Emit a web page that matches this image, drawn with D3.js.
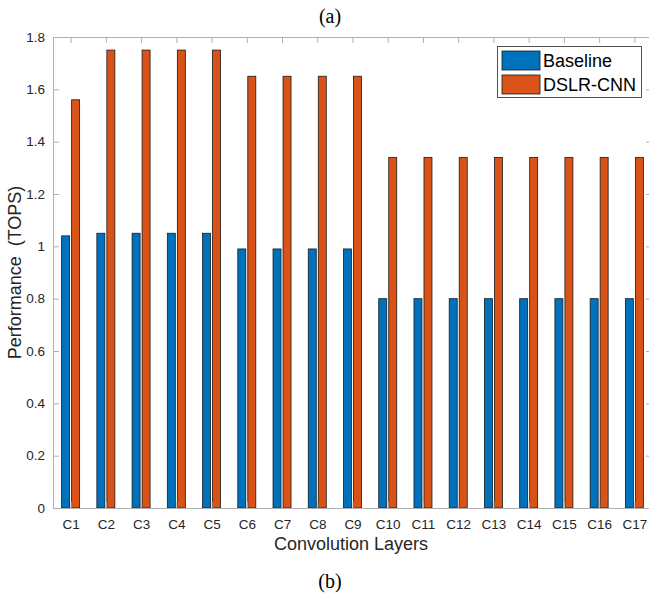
<!DOCTYPE html>
<html lang="en">
    <head>
        <meta charset="utf-8">
        <title>Performance chart</title>
        <script src="https://d3js.org/d3.v7.min.js"></script>
        <style type="text/css">
            body { margin: 0; background: #fff; }
            text { font-family: "Liberation Sans", Arial, sans-serif; }
        </style>
    </head>
    <body>
        <script type="text/javascript">

            //1. sizes
            const svgW = 649;
            const svgH = 597;
            const plotL = 53, plotR = 652, plotT = 37, plotB = 508;

            //2. data
            const layers = ["C1","C2","C3","C4","C5","C6","C7","C8","C9","C10","C11","C12","C13","C14","C15","C16","C17"];
            const baseline = [1.04, 1.05, 1.05, 1.05, 1.05, 0.99, 0.99, 0.99, 0.99, 0.80, 0.80, 0.80, 0.80, 0.80, 0.80, 0.80, 0.80];
            const dslr = [1.56, 1.75, 1.75, 1.75, 1.75, 1.65, 1.65, 1.65, 1.65, 1.34, 1.34, 1.34, 1.34, 1.34, 1.34, 1.34, 1.34];
            const yTicks = [0, 0.2, 0.4, 0.6, 0.8, 1, 1.2, 1.4, 1.6, 1.8];
            const seriesNames = ["Baseline", "DSLR-CNN"];
            const colors = ["#0072BD", "#D95319"];

            //3. scales
            const xScale = d3.scaleLinear()
                            .domain([0.5, layers.length + 0.5])
                            .range([plotL, plotR]);
            const yScale = d3.scaleLinear()
                            .domain([0, 1.8])
                            .range([plotB, plotT]);

            const unit = xScale(2) - xScale(1);
            const barW = 0.227 * unit;
            const offset = 0.142 * unit;

            //4. svg
            const svg = d3.select("body")
                        .append("svg")
                        .attr("width", svgW)
                        .attr("height", svgH);

            // bars
            [baseline, dslr].forEach(function(vals, s) {
                svg.append("g")
                    .selectAll("rect")
                    .data(vals)
                    .enter()
                    .append("rect")
                    .attr("x", (d, i) => xScale(i + 1) + (s === 0 ? -offset : offset) - barW / 2)
                    .attr("y", d => yScale(d))
                    .attr("width", barW)
                    .attr("height", d => yScale(0) - yScale(d))
                    .attr("fill", colors[s])
                    .attr("stroke", "#1a1a1a")
                    .attr("stroke-width", 0.8);
            });

            // axes
            const axisColor = "#b0b0b0";
            function styleAxis(g) {
                g.select(".domain").attr("stroke", axisColor);
                g.selectAll(".tick line").attr("stroke", axisColor);
                g.selectAll(".tick text").attr("fill", "#262626").attr("font-size", "13.5px");
            }

            const bottomAxis = d3.axisBottom(xScale)
                                .tickValues(d3.range(1, layers.length + 1))
                                .tickFormat(d => layers[d - 1])
                                .tickSizeInner(-6)
                                .tickSizeOuter(0)
                                .tickPadding(11);
            svg.append("g")
                .attr("transform", "translate(0," + plotB + ")")
                .call(bottomAxis)
                .call(styleAxis);

            const topAxis = d3.axisTop(xScale)
                                .tickValues(d3.range(1, layers.length + 1))
                                .tickFormat("")
                                .tickSizeInner(-6)
                                .tickSizeOuter(0);
            svg.append("g")
                .attr("transform", "translate(0," + plotT + ")")
                .call(topAxis)
                .call(styleAxis);

            const leftAxis = d3.axisLeft(yScale)
                                .tickValues(yTicks)
                                .tickFormat(d3.format("~g"))
                                .tickSizeInner(-6)
                                .tickSizeOuter(0)
                                .tickPadding(8);
            svg.append("g")
                .attr("transform", "translate(" + plotL + ",0)")
                .call(leftAxis)
                .call(styleAxis);

            const rightAxis = d3.axisRight(yScale)
                                .tickValues(yTicks)
                                .tickFormat("")
                                .tickSizeInner(-6)
                                .tickSizeOuter(0);
            svg.append("g")
                .attr("transform", "translate(" + plotR + ",0)")
                .call(rightAxis)
                .call(styleAxis);

            // axis labels
            svg.append("text")
                .attr("x", 351)
                .attr("y", 550)
                .attr("text-anchor", "middle")
                .attr("font-size", "18px")
                .attr("fill", "#262626")
                .text("Convolution Layers");

            svg.append("text")
                .attr("transform", "translate(21," + ((plotT + plotB) / 2) + ") rotate(-90)")
                .attr("text-anchor", "middle")
                .attr("font-size", "18px")
                .attr("fill", "#262626")
                .style("white-space", "pre")
                .text("Performance  (TOPS)");

            // captions
            svg.append("text")
                .attr("x", 330)
                .attr("y", 23)
                .attr("text-anchor", "middle")
                .style("font-family", "'Liberation Serif', serif")
                .attr("font-size", "20px")
                .attr("fill", "#000")
                .text("(a)");

            svg.append("text")
                .attr("x", 330)
                .attr("y", 588)
                .attr("text-anchor", "middle")
                .style("font-family", "'Liberation Serif', serif")
                .attr("font-size", "20px")
                .attr("fill", "#000")
                .text("(b)");

            // legend
            const legend = svg.append("g");
            legend.append("rect")
                .attr("x", 497.5)
                .attr("y", 46.5)
                .attr("width", 144)
                .attr("height", 51)
                .attr("fill", "#fff")
                .attr("stroke", "#262626")
                .attr("stroke-width", 0.8);
            seriesNames.forEach(function(name, i) {
                legend.append("rect")
                    .attr("x", 502)
                    .attr("y", 51 + i * 24)
                    .attr("width", 38)
                    .attr("height", 19)
                    .attr("fill", colors[i])
                    .attr("stroke", "#1a1a1a")
                    .attr("stroke-width", 0.8);
                legend.append("text")
                    .attr("x", 543)
                    .attr("y", 67 + i * 24)
                    .attr("font-size", "18px")
                    .attr("fill", "#000")
                    .text(name);
            });

        </script>
    </body>
</html>
